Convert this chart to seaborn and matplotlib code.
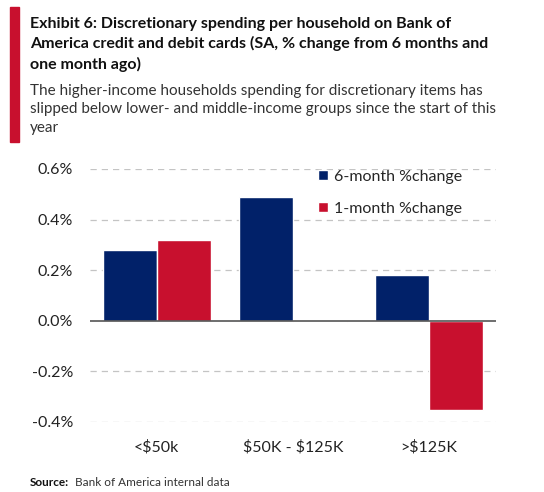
import matplotlib
matplotlib.use("Agg")
import matplotlib.pyplot as plt
import seaborn as sns
import pandas as pd
from matplotlib.patches import Rectangle
from matplotlib.ticker import FuncFormatter

categories = ["<$50k", "$50K - $125K", ">$125K"]
six_month = [0.28, 0.49, 0.18]
one_month = [0.32, -0.005, -0.355]
series_names = ["6-month %change", "1-month %change"]
yticks = [-0.4, -0.2, 0.0, 0.2, 0.4, 0.6]

df = pd.DataFrame({
    "cat": categories * 2,
    "val": six_month + one_month,
    "series": [series_names[0]] * 3 + [series_names[1]] * 3,
})

sns.set_theme(style="white")
plt.rcParams["font.family"] = ["Lato", "DejaVu Sans"]
plt.rcParams["text.parse_math"] = False

navy = "#012169"
red = "#C8102E"

fig = plt.figure(figsize=(5.44, 4.92), dpi=100)
ax = fig.add_axes([90/544, 1-421.7/492, (496-90)/544, (421.7-169)/492])

sns.barplot(data=df, x="cat", y="val", hue="series", palette=[navy, red],
            width=0.79, saturation=1, ax=ax, order=categories, hue_order=series_names)

ax.set_ylim(-0.4, 0.6)
ax.set_xlim(-0.49, 2.49)
ax.set_yticks(yticks)
ax.yaxis.set_major_formatter(FuncFormatter(lambda v, p: f"{v:.1f}%"))
for y in yticks:
    if y == 0:
        ax.axhline(0, color="#555555", lw=1.2, zorder=3)
    else:
        ax.axhline(y, color="#c4c4c4", lw=0.9, ls=(0, (5, 4)), zorder=0)
for s in ax.spines.values():
    s.set_visible(False)
ax.set_xlabel("")
ax.set_ylabel("")
ax.tick_params(axis="both", length=0, labelsize=11.5, colors="#222222")
ax.tick_params(axis="y", pad=12)
ax.tick_params(axis="x", pad=13)

leg = ax.legend(loc="upper left", bbox_to_anchor=(310/544, 1-162/492),
                bbox_transform=fig.transFigure, frameon=False, borderpad=0,
                fontsize=11.5, handlelength=0.6, handleheight=0.6,
                handletextpad=0.4, labelspacing=1.1)

# left red accent bar
fig.patches.append(Rectangle((10/544, 1-142/492), 9/544, 135/492,
                             transform=fig.transFigure, color=red))

title = ("Exhibit 6: Discretionary spending per household on Bank of\n"
         "America credit and debit cards (SA, % change from 6 months and\n"
         "one month ago)")
fig.text(30/544, 1-17/492, title, ha="left", va="top", fontsize=11.5,
         fontweight="bold", color="#111111", linespacing=1.45)
subtitle = ("The higher-income households spending for discretionary items has\n"
            "slipped below lower- and middle-income groups since the start of this\n"
            "year")
fig.text(30/544, 1-84/492, subtitle, ha="left", va="top", fontsize=11,
         color="#333333", linespacing=1.4)

fig.text(30/544, 1-488/492, "Source:", ha="left", va="bottom", fontsize=8.5,
         fontweight="bold", color="#111111")
fig.text(75/544, 1-488/492, "Bank of America internal data", ha="left", va="bottom",
         fontsize=8.5, color="#333333")

fig.savefig("out.png", dpi=100)
